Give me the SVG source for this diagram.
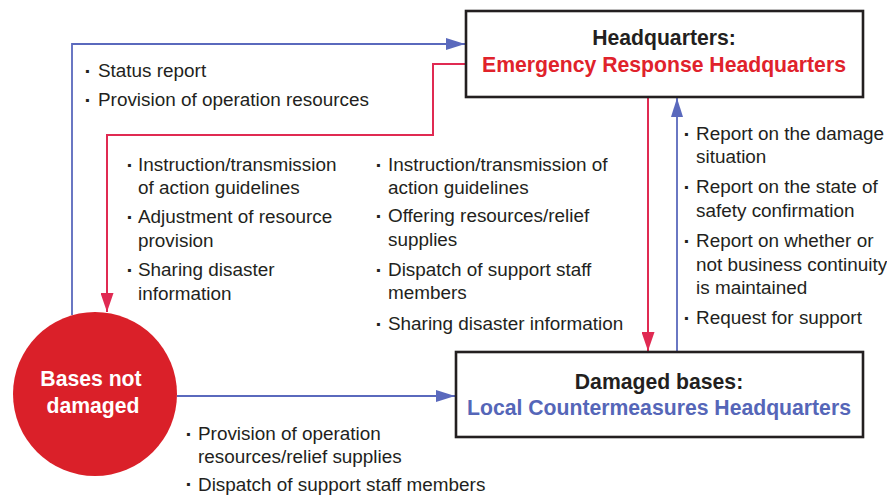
<svg xmlns="http://www.w3.org/2000/svg" width="887" height="496" viewBox="0 0 887 496">
<style>
  .t{font-family:"Liberation Sans",Arial,sans-serif;font-size:18.9px;fill:#231f20}
  .b{font-family:"Liberation Sans",Arial,sans-serif;font-size:21px;fill:#231f20;text-anchor:middle;font-weight:bold}
  .h{font-family:"Liberation Sans",Arial,sans-serif;font-size:21.2px;font-weight:bold;text-anchor:middle}
  .box{fill:#fff;stroke:#231f20;stroke-width:2.6}
  .blue{fill:none;stroke:#5a69bd;stroke-width:1.8}
  .red{fill:none;stroke:#e02a52;stroke-width:2}
</style>
<defs>
  <marker id="ab" markerUnits="userSpaceOnUse" markerWidth="19" markerHeight="12" refX="19" refY="6" orient="auto">
    <path d="M0,0 L19,6 L0,12 z" fill="#5a69bd"/>
  </marker>
  <marker id="ar" markerUnits="userSpaceOnUse" markerWidth="19" markerHeight="13" refX="19" refY="6.5" orient="auto">
    <path d="M0,0 L19,6.5 L0,13 z" fill="#e02a52"/>
  </marker>
</defs>
<rect width="887" height="496" fill="#fff"/>
<g id="connectors">
  <path class="blue" d="M72,315 V44 H465" marker-end="url(#ab)"/>
  <path class="red" d="M466,64 H433 V135 H107 V312" marker-end="url(#ar)"/>
  <path class="blue" d="M177,396 H455" marker-end="url(#ab)"/>
  <path class="red" d="M648,97 V351" marker-end="url(#ar)"/>
  <path class="blue" d="M677,352 V98" marker-end="url(#ab)"/>
</g>
<g id="hq">
  <rect class="box" x="466" y="11" width="397" height="86"/>
  <text class="h" x="664" y="45" fill="#231f20">Headquarters:</text>
  <text class="h" x="664" y="72" fill="#e0222b">Emergency Response Headquarters</text>
</g>
<g id="damaged">
  <rect class="box" x="456" y="352" width="407" height="85"/>
  <text class="h" x="659" y="389" fill="#231f20">Damaged bases:</text>
  <text class="h" x="659" y="415" fill="#5566b8">Local Countermeasures Headquarters</text>
</g>
<g id="notdamaged">
  <circle cx="95" cy="394" r="82" fill="#da2029"/>
  <text class="h" x="91" y="386" fill="#fff" font-size="20">Bases not</text>
  <text class="h" x="93" y="413" fill="#fff" font-size="20">damaged</text>
</g>
<g id="labels">
  <text class="b" x="88" y="78">·</text>
  <text class="t" x="98" y="77">Status report</text>
  <text class="b" x="88" y="107">·</text>
  <text class="t" x="98" y="106">Provision of operation resources</text>

  <text class="b" x="130" y="172">·</text>
  <text class="t" x="138" y="171">Instruction/transmission</text>
  <text class="t" x="138" y="194">of action guidelines</text>
  <text class="b" x="130" y="224">·</text>
  <text class="t" x="138" y="223">Adjustment of resource</text>
  <text class="t" x="138" y="247">provision</text>
  <text class="b" x="130" y="277">·</text>
  <text class="t" x="138" y="276">Sharing disaster</text>
  <text class="t" x="138" y="300">information</text>

  <text class="b" x="379" y="172">·</text>
  <text class="t" x="388" y="171">Instruction/transmission of</text>
  <text class="t" x="388" y="194">action guidelines</text>
  <text class="b" x="379" y="223">·</text>
  <text class="t" x="388" y="222">Offering resources/relief</text>
  <text class="t" x="388" y="246">supplies</text>
  <text class="b" x="379" y="277">·</text>
  <text class="t" x="388" y="276">Dispatch of support staff</text>
  <text class="t" x="388" y="299">members</text>
  <text class="b" x="379" y="331">·</text>
  <text class="t" x="388" y="330">Sharing disaster information</text>

  <text class="b" x="687" y="141">·</text>
  <text class="t" x="696" y="140">Report on the damage</text>
  <text class="t" x="696" y="163">situation</text>
  <text class="b" x="687" y="194">·</text>
  <text class="t" x="696" y="193">Report on the state of</text>
  <text class="t" x="696" y="217">safety confirmation</text>
  <text class="b" x="687" y="248">·</text>
  <text class="t" x="696" y="247">Report on whether or</text>
  <text class="t" x="696" y="271">not business continuity</text>
  <text class="t" x="696" y="294">is maintained</text>
  <text class="b" x="687" y="325">·</text>
  <text class="t" x="696" y="324">Request for support</text>

  <text class="b" x="189" y="441">·</text>
  <text class="t" x="198" y="440">Provision of operation</text>
  <text class="t" x="198" y="463">resources/relief supplies</text>
  <text class="b" x="189" y="491">·</text>
  <text class="t" x="198" y="491">Dispatch of support staff members</text>
</g>
</svg>
